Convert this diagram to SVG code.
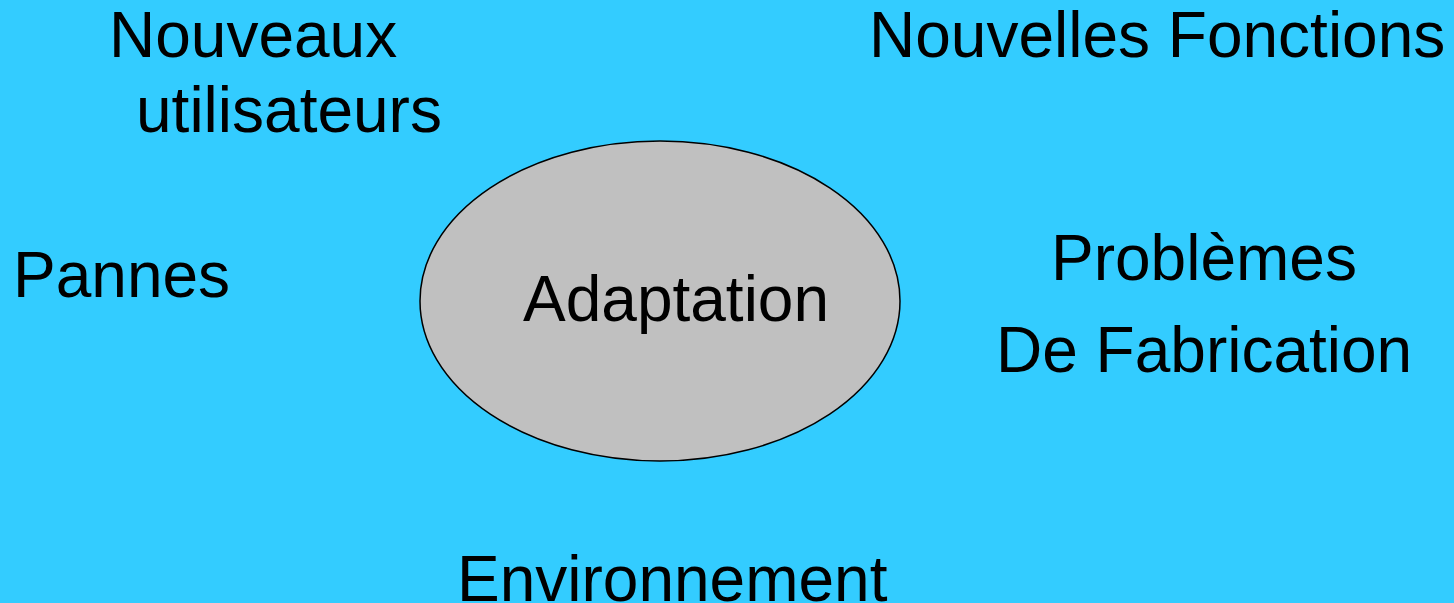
<svg xmlns="http://www.w3.org/2000/svg" width="1454" height="603" viewBox="0 0 1454 603">
  <style>
    .lbl { font-family: "Liberation Sans", Arial, sans-serif; font-size: 64px; fill: #000000; }
    .core { fill: #c0c0c0; stroke: #000000; stroke-width: 1.5; }
  </style>
  <rect x="0" y="0" width="1454" height="603" fill="#33ccff"/>
  <g id="connectors"></g>
  <g id="adaptation">
    <ellipse class="core" cx="660" cy="301" rx="240" ry="160"/>
    <text class="lbl" x="523" y="321">Adaptation</text>
  </g>
  <g id="nouveaux-utilisateurs">
    <text class="lbl" x="109" y="57">Nouveaux</text>
    <text class="lbl" x="136" y="132">utilisateurs</text>
  </g>
  <g id="nouvelles-fonctions">
    <text class="lbl" x="869" y="57">Nouvelles Fonctions</text>
  </g>
  <g id="pannes">
    <text class="lbl" x="13" y="297">Pannes</text>
  </g>
  <g id="problemes-fabrication">
    <text class="lbl" x="1051" y="280">Problèmes</text>
    <text class="lbl" x="996" y="372">De Fabrication</text>
  </g>
  <g id="environnement">
    <text class="lbl" x="457" y="601">Environnement</text>
  </g>
</svg>
